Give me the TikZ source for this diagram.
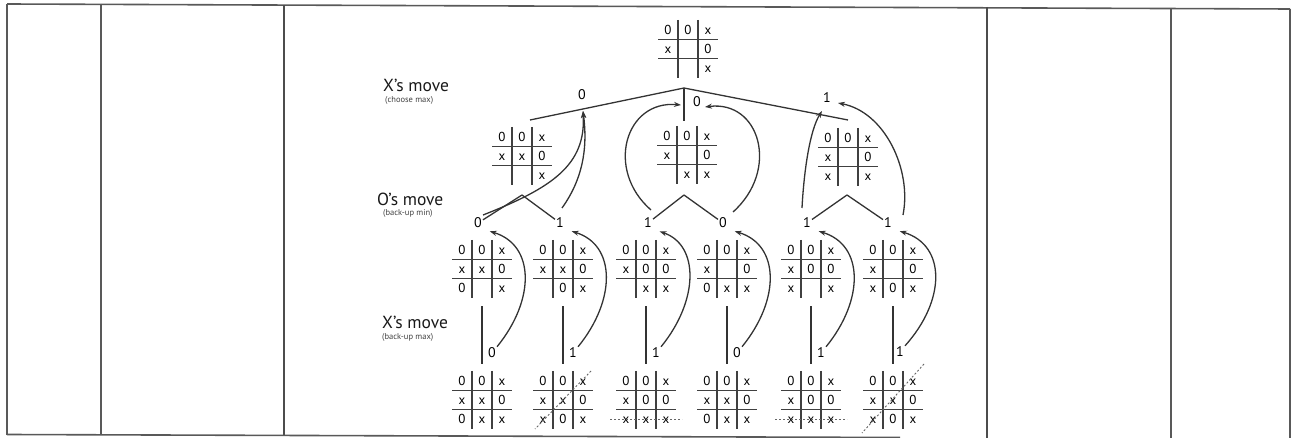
\documentclass[tikz,border=0pt]{standalone}
\usepackage{fontspec}
\setmainfont{PT Sans}
\usetikzlibrary{arrows.meta,calc}
\newcommand\blank{}
\tikzset{
  frame/.style={draw=black!65, line width=1.6pt},
  framethick/.style={draw=black!70, line width=2.3pt},
  grid/.style={draw=black!75, line width=1.3pt},
  edge/.style={draw=black!80, line width=1.3pt},
  arr/.style={draw=black!80, line width=1.3pt, -{Stealth[length=7pt,width=5pt]}},
  boardbox/.style={inner sep=0pt, minimum width=60pt, minimum height=58pt},
  cell/.style={inner sep=0pt, text height=9.2pt, text depth=0pt, font=\fontsize{13}{14}\selectfont, text=black},
  val/.style={inner sep=1pt, font=\fontsize{14}{15}\selectfont, text=black},
  lbl/.style={anchor=west, inner sep=0pt, font=\fontsize{17.5}{19}\selectfont, text=black!90},
  sub/.style={anchor=west, inner sep=0pt, font=\fontsize{8.5}{9}\selectfont, text=black!75},
  win/.style={draw=black!60, line width=0.9pt, dash pattern=on 2pt off 2pt},
}
\newcommand\ttt[4]{%
  \node[boardbox] (#1) at (#2,#3) {};
  \draw[grid] (#2-10,#3-29) -- (#2-10,#3+29);
  \draw[grid] (#2+10,#3-29) -- (#2+10,#3+29);
  \draw[grid] (#2-30,#3-9.5) -- (#2+30,#3-9.5);
  \draw[grid] (#2-30,#3+9.5) -- (#2+30,#3+9.5);
  \foreach \t [count=\k from 0] in {#4} {%
    \pgfmathtruncatemacro\cc{mod(\k,3)}%
    \pgfmathtruncatemacro\rr{\k/3}%
    \node[cell] (#1-\k) at (#2+20*\cc-20,#3+19*\rr-19) {\t};
  }%
}
\begin{document}
\begin{tikzpicture}[x=1pt,y=-1pt]
\useasboundingbox (0,0) rectangle (1299,438);
% frame
\draw[frame] (7,4) -- (1290,9);
\draw[frame] (7,4) -- (7,435);
\draw[frame] (101,4) -- (101,435);
\draw[framethick] (284,5) -- (284,436);
\draw[framethick] (987,7) -- (987,438);
\draw[frame] (1171,8) -- (1171,438);
\draw[frame] (1290,9) -- (1290,438);
\draw[frame] (7,434.5) -- (900,437.5);
% level labels
\node[lbl] (xm1) at (383,85) {X’s move};
\node[sub] (xm1s) at (385,100) {(choose max)};
\node[lbl] (om) at (377,199) {O’s move};
\node[sub] (oms) at (383,213) {(back-up min)};
\node[lbl] (xm2) at (382,322) {X’s move};
\node[sub] (xm2s) at (382,337) {(back-up max)};
% boards
\ttt{root}{688}{49}{0,0,x,x,\blank,0,\blank,\blank,x}
\ttt{ba}{522}{156}{0,0,x,x,x,0,\blank,\blank,x}
\ttt{bb}{687}{155}{0,0,x,x,\blank,0,\blank,x,x}
\ttt{bc}{848}{157}{0,0,x,x,\blank,0,x,\blank,x}
\ttt{b21}{482}{269}{0,0,x,x,x,0,0,\blank,x}
\ttt{b22}{563}{269}{0,0,x,x,x,0,\blank,0,x}
\ttt{b23}{646}{269}{0,0,x,x,0,0,\blank,x,x}
\ttt{b24}{727}{269}{0,0,x,x,\blank,0,0,x,x}
\ttt{b25}{811}{269}{0,0,x,x,0,0,x,\blank,x}
\ttt{b26}{893}{269}{0,0,x,x,\blank,0,x,0,x}
\ttt{b31}{482}{400}{0,0,x,x,x,0,0,x,x}
\ttt{b32}{563}{400}{0,0,x,x,x,0,x,0,x}
\ttt{b33}{646}{400}{0,0,x,x,0,0,x,x,x}
\ttt{b34}{727}{400}{0,0,x,x,x,0,0,x,x}
\ttt{b35}{811}{400}{0,0,x,x,0,0,x,x,x}
\ttt{b36}{893}{400}{0,0,x,x,x,0,x,0,x}
% winning lines
\draw[win] ($(b32)+(28,-29)$) -- ($(b32)+(-28,29)$);
\draw[win] ($(b33)+(-36,19)$) -- ($(b33)+(36,19)$);
\draw[win] ($(b35)+(-36,19)$) -- ($(b35)+(36,19)$);
\draw[win] ($(b36)+(31,-36)$) -- ($(b36)+(-31,33)$);
% values
\node[val] (va) at (582,95) {0};
\node[val] (vb) at (697,102) {0};
\node[val] (vc) at (827,98) {1};
\node[val] (v21) at (478,223) {0};
\node[val] (v22) at (560,223) {1};
\node[val] (v23) at (648,223) {1};
\node[val] (v24) at (723,223) {0};
\node[val] (v25) at (807,223) {1};
\node[val] (v26) at (888,223) {1};
\node[val] (w1) at (492,353) {0};
\node[val] (w2) at (573,353) {1};
\node[val] (w3) at (656,353) {1};
\node[val] (w4) at (737,353) {0};
\node[val] (w5) at (821,353) {1};
\node[val] (w6) at (900,352) {1};
% tree points
\coordinate (r) at (684,88);
\coordinate (ea) at (530,120);
\coordinate (eb) at (684,121);
\coordinate (ec) at (848,120);
\coordinate (ka) at (522,195);
\coordinate (kb) at (684,195);
\coordinate (kc) at (847,195);
\coordinate (ta) at (583,111);
\coordinate (tb1) at (681,105);
\coordinate (tb2) at (705,107);
\coordinate (tc1) at (822,111);
\coordinate (tc2) at (838,103);
% tree edges
\draw[edge] (r) -- (ea);
\draw[edge] (r) -- (eb);
\draw[edge] (r) -- (ec);
\draw[edge] (ka) -- (v21);
\draw[edge] (ka) -- (v22);
\draw[edge] (kb) -- (v23);
\draw[edge] (kb) -- (v24);
\draw[edge] (kc) -- (v25);
\draw[edge] (kc) -- (v26);
\foreach \i in {1,...,6} {
  \draw[edge, shorten <=8pt, shorten >=7pt] (b2\i.south) -- (b3\i.north);
}
% back-up arrows level 3 -> level 2
\foreach \i in {1,...,6} {
  \draw[arr, shorten >=7pt] (w\i.north east) .. controls ($(b2\i.east)+(23,31)$) and ($(b2\i.east)+(23,-24)$) .. (v2\i.south east);
}
% back-up arrows level 2 -> level 1
\draw[arr] ($(v21)+(5,-8)$) .. controls (552,188) and (586,165) .. (ta);
\draw[arr] ($(v22)+(2,-15)$) .. controls (582,180) and (588,150) .. (ta);
\draw[arr] ($(v23)+(3,-13)$) .. controls (605,170) and (625,100) .. (tb1);
\draw[arr] ($(v24)+(10,-11)$) .. controls (780,170) and (760,100) .. (tb2);
\draw[arr] ($(v25)+(-5,-15)$) .. controls (804,170) and (810,130) .. (tc1);
\draw[arr] ($(v26)+(15,-8)$) .. controls (912,170) and (885,112) .. (tc2);
\end{tikzpicture}
\end{document}
